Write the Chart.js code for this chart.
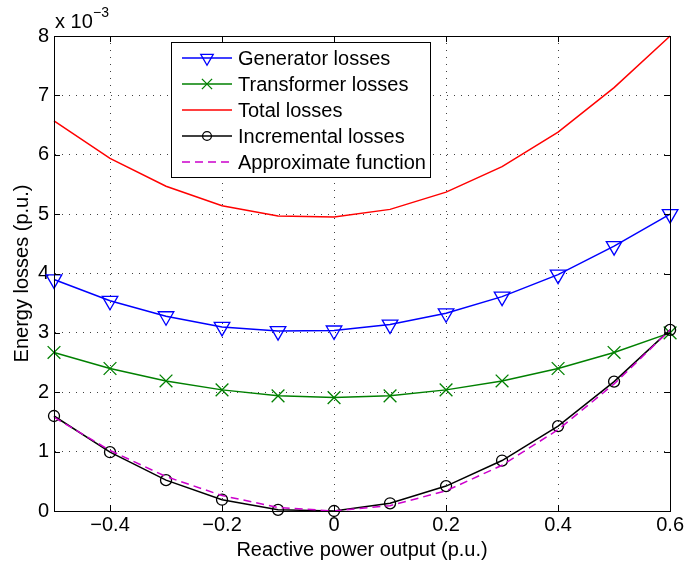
<!DOCTYPE html>
<html>
<head>
<meta charset="utf-8">
<script src="https://cdn.jsdelivr.net/npm/chart.js"></script>
<style>
  body { margin: 0; background: #fff; }
  #wrap { width: 686px; height: 565px; position: relative; }
</style>
</head>
<body>
<div id="wrap"><canvas id="losses"></canvas></div>
<script>
// reactive power output (p.u.)
const xValues = [-0.5, -0.4, -0.3, -0.2, -0.1, 0, 0.1, 0.2, 0.3, 0.4, 0.5, 0.6];
// energy losses, in units of 1e-3 p.u.
const generatorLosses = [3.90, 3.54, 3.28, 3.10, 3.03, 3.04, 3.14, 3.33, 3.61, 3.98, 4.46, 5.00];
const transformerLosses = [2.67, 2.40, 2.19, 2.04, 1.94, 1.91, 1.94, 2.04, 2.19, 2.40, 2.67, 3.00];
const totalLosses = [6.57, 5.94, 5.47, 5.14, 4.97, 4.95, 5.08, 5.37, 5.80, 6.38, 7.13, 8.00];
const incrementalLosses = [1.60, 0.99, 0.52, 0.19, 0.02, 0.00, 0.13, 0.42, 0.85, 1.43, 2.18, 3.05];
const approxFunction = [1.58, 1.02, 0.58, 0.26, 0.06, 0.00, 0.09, 0.34, 0.77, 1.37, 2.14, 3.05];

const xTicks = [-0.4, -0.2, 0, 0.2, 0.4, 0.6];
const yTicks = [0, 1, 2, 3, 4, 5, 6, 7, 8];

const FONT = "'Liberation Sans', Arial, Helvetica, sans-serif";
Chart.defaults.font.family = FONT;
Chart.defaults.font.size = 20;
Chart.defaults.color = '#000';

const toPoints = values => values.map((v, i) => ({ x: xValues[i], y: v }));

const fmtTick = v => {
  if (Math.abs(v) < 1e-9) return '0';
  return (v < 0 ? '\u2212' : '') + Math.abs(v).toFixed(1);
};

const series = [
  { label: 'Generator losses', data: generatorLosses, color: '#0000ff', marker: 'triangle', order: 5 },
  { label: 'Transformer losses', data: transformerLosses, color: '#008000', marker: 'crossRot', order: 4 },
  { label: 'Total losses', data: totalLosses, color: '#ff0000', marker: null, order: 3 },
  { label: 'Incremental losses', data: incrementalLosses, color: '#000000', marker: 'circle', order: 2 },
  { label: 'Approximate function', data: approxFunction, color: '#cc00cc', marker: null, dash: [8, 5], order: 1 },
];

const markerRadius = { triangle: 9, crossRot: 9, circle: 5.5 };

function drawMarker(ctx, style, x, y, r, color) {
  ctx.save();
  ctx.strokeStyle = color;
  ctx.lineWidth = 1.3;
  ctx.beginPath();
  if (style === 'triangle') {
    // downward pointing
    ctx.moveTo(x, y + r);
    ctx.lineTo(x - r * Math.sin(Math.PI / 3), y - r / 2);
    ctx.lineTo(x + r * Math.sin(Math.PI / 3), y - r / 2);
    ctx.closePath();
  } else if (style === 'crossRot') {
    const d = r * Math.SQRT1_2;
    ctx.moveTo(x - d, y - d); ctx.lineTo(x + d, y + d);
    ctx.moveTo(x + d, y - d); ctx.lineTo(x - d, y + d);
  } else if (style === 'circle') {
    ctx.arc(x, y, r, 0, Math.PI * 2);
  }
  ctx.stroke();
  ctx.restore();
}

const frameAndLegend = {
  id: 'frameAndLegend',
  afterDraw(chart) {
    const { ctx, chartArea: a, scales } = chart;
    ctx.save();
    // box and inward ticks
    ctx.strokeStyle = '#000';
    ctx.lineWidth = 1;
    ctx.strokeRect(Math.round(a.left) + 0.5, Math.round(a.top) + 0.5,
      Math.round(a.right - a.left), Math.round(a.bottom - a.top));
    ctx.beginPath();
    xTicks.forEach(v => {
      const px = Math.round(scales.x.getPixelForValue(v)) + 0.5;
      ctx.moveTo(px, a.bottom); ctx.lineTo(px, a.bottom - 6);
      ctx.moveTo(px, a.top); ctx.lineTo(px, a.top + 6);
    });
    yTicks.forEach(v => {
      const py = Math.round(scales.y.getPixelForValue(v)) + 0.5;
      ctx.moveTo(a.left, py); ctx.lineTo(a.left + 6, py);
      ctx.moveTo(a.right, py); ctx.lineTo(a.right - 6, py);
    });
    ctx.stroke();

    // exponent label
    ctx.fillStyle = '#000';
    ctx.textBaseline = 'alphabetic';
    ctx.textAlign = 'left';
    ctx.font = '20px ' + FONT;
    ctx.fillText('x 10', 55, 28);
    ctx.font = '14px ' + FONT;
    ctx.fillText('\u22123', 93, 17);

    // legend box
    const lx = 171, ly = 42, lw = 259, lh = 135;
    ctx.fillStyle = '#fff';
    ctx.fillRect(lx, ly, lw, lh);
    ctx.strokeStyle = '#000';
    ctx.strokeRect(lx + 0.5, ly + 0.5, lw, lh);
    ctx.font = '20px ' + FONT;
    ctx.textBaseline = 'middle';
    series.forEach((s, i) => {
      const y = 58 + i * 26;
      ctx.save();
      ctx.strokeStyle = s.color;
      ctx.lineWidth = 1.5;
      ctx.setLineDash(s.dash || []);
      ctx.beginPath();
      ctx.moveTo(182, y); ctx.lineTo(232, y);
      ctx.stroke();
      ctx.restore();
      if (s.marker) drawMarker(ctx, s.marker, 207, y, markerRadius[s.marker] * 0.8, s.color);
      ctx.fillStyle = '#000';
      ctx.fillText(s.label, 238, y + 1);
    });
    ctx.restore();
  },
};

new Chart(document.getElementById('losses'), {
  type: 'line',
  data: {
    datasets: series.map(s => ({
      label: s.label,
      data: toPoints(s.data),
      borderColor: s.color,
      backgroundColor: s.color,
      borderWidth: 1.5,
      borderDash: s.dash || [],
      tension: 0,
      order: s.order,
      clip: false,
      pointStyle: s.marker || 'circle',
      pointRadius: s.marker ? markerRadius[s.marker] : 0,
      pointRotation: s.marker === 'triangle' ? 180 : 0,
      pointBorderColor: s.color,
      pointBackgroundColor: 'rgba(0,0,0,0)',
      pointBorderWidth: 1.3,
    })),
  },
  options: {
    responsive: true,
    maintainAspectRatio: false,
    animation: false,
    layout: { padding: { top: 36, right: 14, left: 0, bottom: 0 } },
    plugins: { legend: { display: false }, tooltip: { enabled: false } },
    scales: {
      x: {
        type: 'linear',
        min: -0.5,
        max: 0.6,
        afterBuildTicks: scale => { scale.ticks = xTicks.map(v => ({ value: v })); },
        afterFit: scale => { scale.height = 54; },
        ticks: { padding: 2, callback: v => fmtTick(v), maxRotation: 0 },
        grid: { color: 'rgba(0,0,0,0.75)', lineWidth: 1, drawTicks: false },
        border: { display: true, color: '#000', width: 1, dash: [1, 6] },
        title: { display: true, text: 'Reactive power output (p.u.)', padding: { top: 0, bottom: 3 } },
      },
      y: {
        type: 'linear',
        min: 0,
        max: 8,
        afterBuildTicks: scale => { scale.ticks = yTicks.map(v => ({ value: v })); },
        afterFit: scale => { scale.width = 54; },
        ticks: { padding: 5, callback: v => String(v) },
        grid: { color: 'rgba(0,0,0,0.75)', lineWidth: 1, drawTicks: false },
        border: { display: true, color: '#000', width: 1, dash: [1, 6] },
        title: { display: true, text: 'Energy losses (p.u.)', padding: { top: 10, bottom: 0 } },
      },
    },
  },
  plugins: [frameAndLegend],
});
</script>
</body>
</html>
